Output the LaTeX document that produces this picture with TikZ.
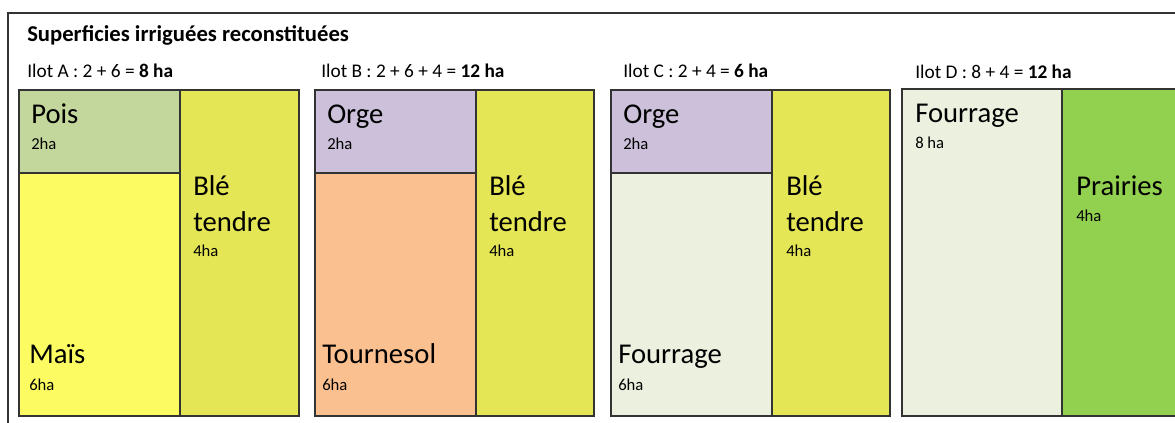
\documentclass[tikz,border=0pt]{standalone}
\usepackage{fontspec}
\setmainfont{Carlito}
\definecolor{pois}{HTML}{C3D69B}
\definecolor{mais}{HTML}{FCFC62}
\definecolor{ble}{HTML}{E5E655}
\definecolor{orge}{HTML}{CCC0DA}
\definecolor{tourn}{HTML}{FAC090}
\definecolor{fourr}{HTML}{EBF0DF}
\definecolor{prair}{HTML}{92D050}
\definecolor{edge}{HTML}{333333}
\begin{document}
\begin{tikzpicture}[x=0.75pt,y=-0.75pt,
  plot/.style={draw=edge,line width=1.1pt},
  big/.style={anchor=base west,inner sep=0pt,font=\fontsize{21.5}{24}\selectfont},
  small/.style={anchor=base west,inner sep=0pt,font=\fontsize{12.5}{14}\selectfont},
  ilot/.style={anchor=base west,inner sep=0pt,font=\fontsize{14.5}{17}\selectfont},
  titre/.style={anchor=base west,inner sep=0pt,font=\bfseries\fontsize{17}{20}\selectfont}]
\clip (0,0) rectangle (1175,423);
\fill[white] (0,0) rectangle (1175,423);
% outer frame
\draw[edge,line width=1.1pt] (8,430) -- (8,13) -- (1190,13);
\node[titre] (title) at (27,42) {Superficies irriguées reconstituées};
% Ilot A
\node[ilot] (la) at (27,78) {Ilot A : 2 + 6 = \textbf{8 ha}};
\fill[pois] (19,90) rectangle (180,173);
\fill[mais] (19,173) rectangle (180,416);
\fill[ble] (180,90) rectangle (299,416);
\draw[plot] (19,90) rectangle (180,173);
\draw[plot] (19,173) rectangle (180,416);
\draw[plot] (180,90) rectangle (299,416);
\node[big] (pois) at (31,124) {Pois};
\node[small] (poisha) at (31,150) {2ha};
\node[big] (blea) at (193,196) {Blé};
\node[big] (blea2) at (193,232) {tendre};
\node[small] (bleaha) at (193,257) {4ha};
\node[big] (mais) at (29,364) {Maïs};
\node[small] (maisha) at (29,391) {6ha};
% Ilot B
\node[ilot] (lb) at (321,78) {Ilot B : 2 + 6 + 4 = \textbf{12 ha}};
\fill[orge] (315,90) rectangle (476,173);
\fill[tourn] (315,173) rectangle (476,416);
\fill[ble] (476,90) rectangle (594,416);
\draw[plot] (315,90) rectangle (476,173);
\draw[plot] (315,173) rectangle (476,416);
\draw[plot] (476,90) rectangle (594,416);
\node[big] (orgeb) at (327,124) {Orge};
\node[small] (orgebha) at (327,150) {2ha};
\node[big] (bleb) at (489,196) {Blé};
\node[big] (bleb2) at (489,232) {tendre};
\node[small] (blebha) at (489,257) {4ha};
\node[big] (tourn) at (322,364) {Tournesol};
\node[small] (tournha) at (322,391) {6ha};
% Ilot C
\node[ilot] (lc) at (623,78) {Ilot C : 2 + 4 = \textbf{6 ha}};
\fill[orge] (611,90) rectangle (772,173);
\fill[fourr] (611,173) rectangle (772,416);
\fill[ble] (772,90) rectangle (890,416);
\draw[plot] (611,90) rectangle (772,173);
\draw[plot] (611,173) rectangle (772,416);
\draw[plot] (772,90) rectangle (890,416);
\draw[edge,line width=2.2pt] (772,90) -- (772,416);
\node[big] (orgec) at (623,124) {Orge};
\node[small] (orgecha) at (623,150) {2ha};
\node[big] (blec) at (786,196) {Blé};
\node[big] (blec2) at (786,232) {tendre};
\node[small] (blecha) at (786,257) {4ha};
\node[big] (fourc) at (618,364) {Fourrage};
\node[small] (fourcha) at (618,391) {6ha};
% Ilot D
\node[ilot] (ld) at (915,79) {Ilot D : 8 + 4 = \textbf{12 ha}};
\fill[fourr] (902,89) rectangle (1062,416);
\fill[prair] (1062,89) rectangle (1190,416);
\draw[plot] (902,89) rectangle (1062,416);
\draw[plot] (1062,89) rectangle (1190,416);
\node[big] (fourd) at (915,123) {Fourrage};
\node[small] (fourdha) at (915,149) {8 ha};
\node[big] (prair) at (1076,196) {Prairies};
\node[small] (prairha) at (1076,222) {4ha};
\end{tikzpicture}
\end{document}
